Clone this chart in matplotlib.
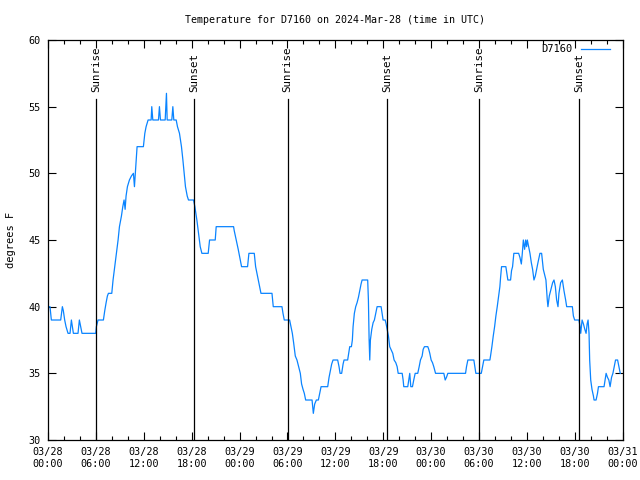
import matplotlib
matplotlib.use('Agg')
import matplotlib.pyplot as plt
import matplotlib.dates as mdates
import pandas as pd

# hours since 2024-03-28 00:00 UTC and temperature (F)
hours = [0.0, 0.25, 0.42, 1.59, 1.8, 1.92, 2.09, 2.26, 2.51, 2.76, 2.93, 3.05, 3.18, 3.76, 3.93,
         4.1, 4.26, 5.98, 6.06, 6.27, 6.94, 7.11, 7.28, 7.44, 7.57, 7.99, 8.15, 8.36, 8.57, 8.78,
         8.95, 9.2, 9.37, 9.53, 9.66, 9.78, 9.95, 10.2, 10.45, 10.7, 10.83, 11.0, 11.16, 11.95,
         12.13, 12.29, 12.54, 12.92, 13.0, 13.13, 13.84, 13.96, 14.09, 14.68, 14.76, 14.84, 14.93,
         15.51, 15.64, 15.76, 16.06, 16.22, 16.47, 16.72, 16.9, 17.06, 17.22, 17.44, 17.6, 18.23,
         18.4, 18.65, 18.86, 19.07, 19.28, 20.07, 20.24, 20.95, 21.07, 23.25,
         23.33, 23.58, 23.83, 24.08, 24.25, 25.0, 25.17, 25.84, 26.01, 26.18, 26.34, 26.51, 26.68,
         28.06, 28.22, 29.31, 29.44, 29.6, 30.27, 30.44, 30.61, 30.77, 30.98, 31.19, 31.4, 31.61,
         31.77, 31.95, 32.11, 32.28, 33.08, 33.24, 33.41, 33.62, 33.87, 34.04, 34.21, 35.04, 35.21,
         35.37, 35.54, 35.71, 36.29, 36.46, 36.59,
         36.79, 36.97, 37.09, 37.54, 37.67, 37.8, 38.01, 38.13, 38.22, 38.38, 38.55, 38.72, 38.89,
         39.05, 39.22, 39.35, 40.05, 40.14, 40.23, 40.31, 40.39, 40.56, 40.73, 40.89, 41.06, 41.23,
         41.73, 41.86, 41.98, 42.24, 42.36, 42.49, 42.65, 42.81, 43.03, 43.19, 43.36, 43.57, 43.74,
         43.87, 44.37, 44.49, 44.57, 45.07, 45.2, 45.32, 45.45, 45.66, 45.82, 46.0, 46.32, 46.5,
         46.66, 46.87, 47.0, 47.16, 47.58, 47.7, 47.83, 48.0, 48.17, 48.33, 48.55,
         49.59, 49.76, 49.92, 50.09, 52.31, 52.43, 52.6, 53.35, 53.48, 53.6, 54.28, 54.44, 54.6,
         55.36, 55.44, 55.61, 55.78, 55.95, 56.11, 56.28, 56.45, 56.61, 56.7, 56.82, 57.36, 57.49,
         57.61, 57.95, 58.07, 58.2, 58.28, 58.36, 58.96, 59.12, 59.3, 59.42, 59.55, 59.71, 59.84,
         59.96, 60.05, 60.21, 60.38, 60.55, 60.71, 60.88, 61.05, 61.21, 61.38, 61.55, 61.63,
         61.84, 62.05, 62.38, 62.55, 62.63, 62.8, 62.97, 63.22, 63.39, 63.56, 63.72, 63.89, 64.01,
         64.22, 64.44, 64.64, 64.85, 64.98, 65.69, 65.82, 65.98, 66.52, 66.65, 66.74, 66.91, 67.08,
         67.25, 67.41, 67.54, 67.66, 67.78, 67.86, 67.99, 68.15, 68.33, 68.41, 68.66, 68.84, 68.96,
         69.66, 69.79, 69.92, 70.09, 70.26, 70.42, 70.6, 70.77, 70.93, 71.1, 71.36, 71.53, 71.69]

temps = [40, 40, 39, 39, 40, 39.7, 39, 38.5, 38, 38, 39, 38.5, 38, 38, 39,
         38.5, 38, 38, 38.5, 39, 39, 39.7, 40.3, 40.8, 41, 41, 42, 43, 44, 45,
         46, 46.8, 47.5, 48, 47.3, 48.3, 49, 49.5, 49.8, 50, 49, 50.5, 52, 52,
         53, 53.5, 54, 54, 55, 54, 54, 55, 54, 54, 55, 56, 54,
         54, 55, 54, 54, 53.5, 53, 52, 51, 50, 49, 48.3, 48, 48,
         47.5, 46.5, 45.5, 44.5, 44, 44, 45, 45, 46, 46,
         45.7, 45, 44.3, 43.5, 43, 43, 44, 44, 43, 42.5, 42, 41.5, 41,
         41, 40, 40, 39.5, 39, 39, 38.5, 38, 37.3, 36.3, 36, 35.5, 35,
         34.2, 33.8, 33.5, 33, 33, 32, 32.7, 33, 33, 33.5, 34, 34, 34.7,
         35.2, 35.7, 36, 36, 35.5, 35,
         35, 35.7, 36, 36, 36.5, 37, 37, 37.5, 38.5, 39.5, 40, 40.3, 40.7,
         41.2, 41.7, 42, 42, 40.5, 37.5, 36, 37.5, 38.3, 38.8, 39, 39.5, 40,
         40, 39.5, 39, 39, 38.7, 38.3, 37.8, 37, 36.7, 36.5, 36, 35.8, 35.5,
         35, 35, 34.5, 34, 34, 34.5, 35, 34, 34, 34.5, 35, 35, 35.5,
         36, 36.3, 36.8, 37, 37, 36.8, 36.5, 36, 35.8, 35.5, 35,
         35, 34.5, 34.7, 35, 35, 35.5, 36, 36, 35.5, 35, 35, 35.5, 36,
         36, 36.3, 37, 37.8, 38.5, 39.3, 40, 40.8, 41.5, 42.2, 43, 43, 42.5,
         42, 42, 42.7, 43, 43.5, 44, 44, 43.7, 43.2, 44, 45, 44.3, 45,
         44.5, 45, 44.5, 44, 43.3, 42.8, 42, 42.3, 42.8, 43.3, 43.8, 44,
         44, 42.8, 42, 40.5, 40, 40.8, 41.2, 41.8, 42, 41.5, 40.5, 40, 41,
         41.8, 42, 41.2, 40.5, 40, 40, 39.3, 39, 39, 38.5, 38, 39, 38.7,
         38.3, 38, 38.7, 39, 38, 36, 34.5, 33.8, 33.3, 33, 33, 33.5, 34,
         34, 34.5, 35, 34.7, 34.5, 34, 34.7, 35, 35.5, 36, 36, 35.5, 35]

sun_hours = [6.02, 18.35, 30.02, 42.44, 54.02, 66.57]
sun_labels = ['Sunrise', 'Sunset', 'Sunrise', 'Sunset', 'Sunrise', 'Sunset']

start = pd.Timestamp('2024-03-28 00:00')
times = start + pd.to_timedelta(hours, unit='h')
sun_times = start + pd.to_timedelta(sun_hours, unit='h')

plt.rcParams['font.family'] = 'DejaVu Sans Mono'
plt.rcParams['font.size'] = 7

fig = plt.figure(figsize=(6.4, 4.8), dpi=100)
ax = fig.add_axes([0.075, 0.0833, 0.898, 0.8334])

ax.plot(times, temps, color='#0a84ff', lw=0.9, label='D7160')

for t, lab in zip(sun_times, sun_labels):
    ax.plot([t, t], [30, 55.55], color='black', lw=0.9)
    ax.text(t, 56.1, lab, rotation=90, ha='center', va='bottom', fontsize=7.8)

ax.set_xlim(start, start + pd.Timedelta(hours=72))
ax.set_ylim(30, 60)
ax.set_yticks([30, 35, 40, 45, 50, 55, 60])

ax.xaxis.set_major_locator(mdates.HourLocator(byhour=[0, 6, 12, 18]))
ax.xaxis.set_minor_locator(mdates.HourLocator(byhour=range(0, 24, 2)))
ax.xaxis.set_major_formatter(mdates.DateFormatter('%m/%d\n%H:%M'))

ax.tick_params(which='both', direction='in', top=True, right=True, colors='black')
ax.tick_params(which='major', length=6, width=0.8, labelsize=7.3, pad=5)
ax.tick_params(which='minor', length=3, width=0.8)
for s in ax.spines.values():
    s.set_linewidth(0.9)

ax.set_ylabel('degrees F', fontsize=7.5, labelpad=9)
ax.set_title('Temperature for D7160 on 2024-Mar-28 (time in UTC)', fontsize=7.2, pad=12)

ax.legend(loc='upper right', frameon=False, markerfirst=False, fontsize=7.5,
          handlelength=2.8, borderaxespad=0.3, bbox_to_anchor=(0.99, 1.0075))

fig.savefig('out.png', dpi=100)
